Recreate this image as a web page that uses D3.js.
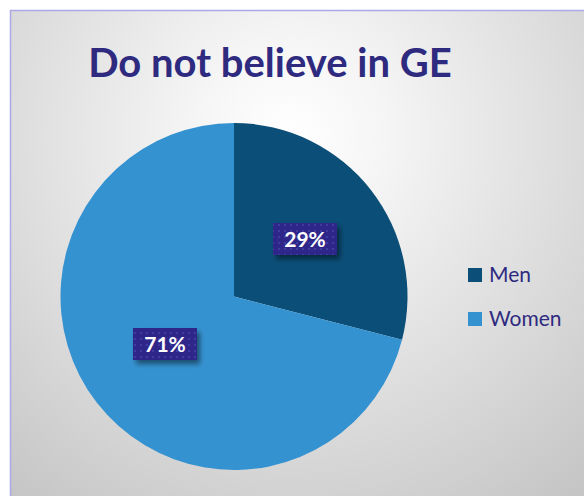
<!DOCTYPE html>
<html><head><meta charset="utf-8">
<script src="https://cdn.jsdelivr.net/npm/d3@7"></script>
<style>body{margin:0;background:#fff}svg{display:block}</style>
</head><body>
<script>
const title = "Do not believe in GE";
const categories = ["Men", "Women"];
const values = [29, 71];
const labels = ["29%", "71%"];
const colors = ["#0B4E77", "#3592D0"];

const W = 584, H = 496;
const svg = d3.select("body").append("svg").attr("width", W).attr("height", H);
const defs = svg.append("defs");
const rg = defs.append("radialGradient").attr("id","bg").attr("gradientUnits","userSpaceOnUse")
  .attr("cx",290).attr("cy",135).attr("r",480);
rg.append("stop").attr("offset","0").attr("stop-color","#ffffff");
rg.append("stop").attr("offset","0.2").attr("stop-color","#f5f5f5");
rg.append("stop").attr("offset","1").attr("stop-color","#c2c2c2");
const pat = defs.append("pattern").attr("id","dots").attr("patternUnits","userSpaceOnUse")
  .attr("width",6).attr("height",6);
pat.append("rect").attr("width",6).attr("height",6).attr("fill","#2E2889");
pat.append("rect").attr("x",2).attr("y",2).attr("width",2).attr("height",2).attr("fill","#3F3AA0");
const flt = defs.append("filter").attr("id","sh").attr("x","-20%").attr("y","-20%").attr("width","150%").attr("height","170%");
flt.append("feDropShadow").attr("dx",3).attr("dy",4).attr("stdDeviation",2.5).attr("flood-color","#000").attr("flood-opacity",0.45);

svg.append("rect").attr("x",10.5).attr("y",10.5).attr("width",W).attr("height",H)
  .attr("fill","url(#bg)").attr("stroke","#ADA8E6").attr("stroke-width",1.5);

svg.append("text").attr("x",270).attr("y",77).attr("text-anchor","middle")
  .attr("font-family","Lato, 'Open Sans', sans-serif").attr("font-weight","bold")
  .attr("font-size",40).attr("fill","#2E2A80").text(title);

const cx = 234, cy = 296.5, r = 173.5;
const pie = d3.pie().sort(null).value(d => d)(values);
const arc = d3.arc().innerRadius(0).outerRadius(r);
const g = svg.append("g").attr("transform",`translate(${cx},${cy})`);
g.selectAll("path").data(pie).join("path").attr("d",arc).attr("fill",(d,i)=>colors[i]);

const labelPos = [[305,239],[165,344]];
const lg = svg.append("g");
labels.forEach((t,i)=>{
  const [x,y] = labelPos[i];
  lg.append("rect").attr("x",x-32).attr("y",y-16).attr("width",64).attr("height",32)
    .attr("fill","url(#dots)").attr("filter","url(#sh)");
  lg.append("text").attr("x",x).attr("y",y+7.5).attr("text-anchor","middle")
    .attr("font-family","Lato, 'Open Sans', sans-serif").attr("font-weight","bold")
    .attr("font-size",21).attr("fill","#fff").text(t);
});

const leg = svg.append("g");
categories.forEach((c,i)=>{
  const y = 268 + i*44;
  leg.append("rect").attr("x",468).attr("y",y).attr("width",14).attr("height",14).attr("fill",colors[i]);
  leg.append("text").attr("x",489).attr("y",y+13.5).attr("font-family","Lato, 'Open Sans', sans-serif")
    .attr("font-size",21).attr("fill","#2E2A80").text(c);
});
</script>
</body></html>
